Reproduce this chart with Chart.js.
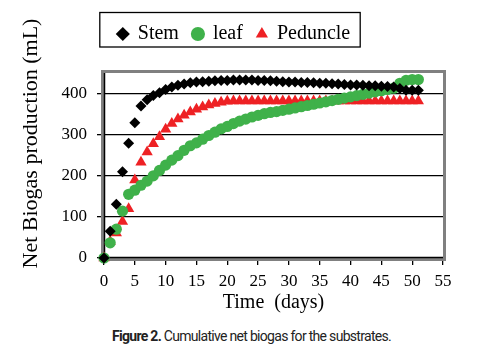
<!DOCTYPE html>
<html>
<head>
<meta charset="utf-8">
<script src="https://cdn.jsdelivr.net/npm/chart.js@4"></script>
<style>
  html, body { margin: 0; padding: 0; background: #fff; }
  #wrap { position: relative; width: 497px; height: 322px; }
  #caption {
    position: absolute; left: 3px; top: 328px; width: 497px; text-align: center;
    font-family: "Liberation Sans Narrow", "Roboto", sans-serif;
    font-size: 14px; color: #222; white-space: nowrap;
  }
</style>
</head>
<body>
<div id="wrap"><canvas id="chart"></canvas></div>
<div id="caption"><span id="captext"><b>Figure 2.</b> Cumulative net biogas for the substrates.</span></div>
<script>
// Time axis (days)
const days = [0, 1, 2, 3, 4, 5, 6, 7, 8, 9, 10, 11, 12, 13, 14, 15, 16, 17, 18, 19, 20,
  21, 22, 23, 24, 25, 26, 27, 28, 29, 30, 31, 32, 33, 34, 35, 36, 37, 38, 39, 40,
  41, 42, 43, 44, 45, 46, 47, 48, 49, 50, 51];

// Net biogas production (mL)
const stem = [0, 65, 131, 210, 279, 329, 370, 385, 395, 402, 410, 416, 420, 423, 426, 428, 429, 430, 431, 432, 432,
  433, 433, 433, 433, 432, 432, 431, 430, 429, 428, 428, 427, 427, 426, 425, 425, 424, 423, 422, 421,
  421, 420, 419, 419, 418, 417, 416, 412, 408, 408, 408];
const leaf = [0, 37, 70, 114, 155, 165, 177, 187, 200, 213, 226, 238, 249, 262, 273, 280, 289, 298, 306, 314, 320,
  327, 333, 338, 343, 347, 351, 354, 356, 359, 362, 365, 368, 371, 374, 377, 380, 383, 386, 389, 392,
  395, 398, 401, 404, 407, 410, 413, 425, 432, 434, 434];
const peduncle = [0, 40, 61, 89, 120, 190, 233, 258, 278, 295, 313, 327, 338, 347, 355, 362, 367, 372, 376, 379, 381,
  382, 382, 382, 382, 382, 382, 382, 382, 382, 382, 382, 382, 382, 382, 382, 382, 382, 382, 382, 382,
  382, 382, 382, 382, 382, 382, 382, 382, 382, 382, 382];

const seriesNames = ["Stem", "leaf", "Peduncle"];
const xTicks = [0, 5, 10, 15, 20, 25, 30, 35, 40, 45, 50, 55];
const yTicks = [0, 100, 200, 300, 400];

const toPoints = (vals) => days.map((d, i) => ({ x: d, y: vals[i] }));

// ajustar el ancho del pie de figura (~279px)
const cap = document.getElementById("captext");
const capW = cap.getBoundingClientRect().width;
cap.style.letterSpacing = ((279 - capW) / cap.textContent.length).toFixed(2) + "px";

Chart.defaults.font.family = "Liberation Serif";
Chart.defaults.color = "#000";

// marco gris del area de trazado + caja de la leyenda
const framePlugin = {
  id: "frame",
  beforeLayout(chart) {
    const lg = chart.legend;
    if (lg && !lg.__patched) {
      const fit = lg.fit;
      lg.fit = function () {
        fit.call(this);
        this.height += 19; // espacio entre la leyenda y el grafico
      };
      lg.__patched = true;
    }
  },
  afterLayout(chart) {
    const lg = chart.legend;
    if (lg) {
      lg.left += 4;
      lg.right += 4;
    }
  },
  beforeDatasetsDraw(chart) {
    const { ctx, chartArea: a } = chart;
    ctx.save();
    ctx.strokeStyle = "#808080";
    ctx.lineWidth = 3;
    ctx.strokeRect(a.left - 1.5, a.top - 1.5, a.right - a.left + 3, a.bottom - a.top + 3);
    ctx.strokeStyle = "#000";
    ctx.lineWidth = 1.5;
    ctx.beginPath();
    ctx.moveTo(a.left + 0.5, a.top);
    ctx.lineTo(a.left + 0.5, a.bottom - 0.5);
    ctx.lineTo(a.right, a.bottom - 0.5);
    ctx.stroke();
    ctx.restore();
  },
  afterDraw(chart) {
    const lg = chart.legend;
    if (!lg || !lg.legendHitBoxes.length) return;
    const boxes = lg.legendHitBoxes;
    const x0 = boxes[0].left - 18;
    const last = boxes[boxes.length - 1];
    const x1 = last.left + last.width + 10;
    const ctx = chart.ctx;
    ctx.save();
    ctx.strokeStyle = "#000";
    ctx.lineWidth = 1.3;
    ctx.strokeRect(x0, 12.5, x1 - x0, 34.5);
    ctx.restore();
  },
};

const chart = new Chart(document.getElementById("chart"), {
  type: "scatter",
  data: {
    datasets: [
      {
        label: seriesNames[0],
        data: toPoints(stem),
        pointStyle: "rectRot",
        pointRadius: 5.5,
        backgroundColor: "#000",
        borderColor: "#000",
        borderWidth: 0,
        clip: false,
      },
      {
        label: seriesNames[1],
        data: toPoints(leaf),
        pointStyle: "circle",
        pointRadius: 5.6,
        backgroundColor: "#3fb14a",
        borderColor: "#3fb14a",
        borderWidth: 0,
        clip: false,
      },
      {
        label: seriesNames[2],
        data: toPoints(peduncle),
        pointStyle: "triangle",
        pointRadius: 6.5,
        backgroundColor: "#ee2124",
        borderColor: "#ee2124",
        borderWidth: 0,
        clip: false,
      },
    ],
  },
  options: {
    responsive: true,
    maintainAspectRatio: false,
    animation: false,
    layout: { padding: { left: 17, right: 54, top: 10, bottom: 3 } },
    plugins: {
      tooltip: { enabled: false },
      legend: {
        position: "top",
        align: "center",
        labels: {
          usePointStyle: true,
          boxWidth: 10,
          boxHeight: 10,
          padding: 14,
          color: "#000",
          font: { family: "Liberation Serif", size: 20 },
        },
      },
    },
    scales: {
      x: {
        type: "linear",
        min: 0,
        max: 55,
        afterBuildTicks: (s) => { s.ticks = xTicks.map((v) => ({ value: v })); },
        afterFit: (s) => { s.height = 61; },
        grid: { drawOnChartArea: false, drawTicks: true, tickLength: 7, color: "#000", lineWidth: 1.3 },
        border: { display: false },
        ticks: { padding: 6, color: "#000", font: { family: "Liberation Serif", size: 17 }, maxRotation: 0 },
        title: {
          display: true,
          text: "Time  (days)",
          color: "#000",
          font: { family: "Liberation Serif", size: 20 },
          padding: { top: 0, bottom: 4 },
        },
      },
      y: {
        min: 0,
        max: 450,
        afterBuildTicks: (s) => { s.ticks = yTicks.map((v) => ({ value: v })); },
        afterFit: (s) => { s.width = 87; },
        grid: { color: "#000", lineWidth: 1.3, tickLength: 7 },
        border: { display: false },
        ticks: { padding: 10, color: "#000", font: { family: "Liberation Serif", size: 17 } },
        title: {
          display: true,
          text: "        Net Biogas production (mL)",
          color: "#000",
          font: { family: "Liberation Serif", size: 22 },
          padding: { top: 1, bottom: 0 },
        },
      },
    },
  },
  plugins: [framePlugin],
});
</script>
</body>
</html>
